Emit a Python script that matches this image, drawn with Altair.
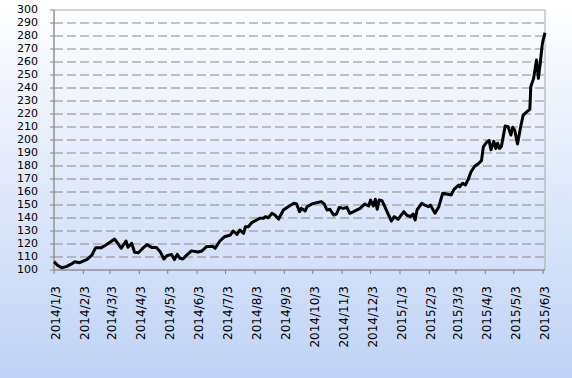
import altair as alt
import pandas as pd

# Calendar days after 2014-01-03 and index values
day_offset = [0, 4, 8, 13, 18, 22, 27, 35, 40, 44, 50, 56, 64, 68, 71, 76, 78, 82, 85, 89,
              93, 98, 103, 108, 112, 116, 119, 124, 127, 130, 133, 136, 140, 145, 152, 156,
              161, 168, 170, 175, 180, 186, 189, 193, 196, 200, 202, 205, 209, 214, 217, 221,
              223, 226, 230, 233, 237, 242, 247, 253, 256, 259, 261, 265, 267, 272, 277, 282,
              285, 288, 291, 295, 298, 301, 305, 309, 312, 316, 323, 328, 332, 334, 337, 339,
              341, 343, 346, 349, 353, 356, 359, 363, 369, 372, 376, 379, 381, 383, 388, 391,
              395, 397, 402, 406, 410, 414, 419, 422, 427, 428, 431, 434, 437, 440, 444, 448,
              451, 453, 457, 459, 461, 464, 466, 468, 470, 472, 476, 479, 482, 484, 486, 489,
              492, 495, 499, 502, 503, 506, 509, 511, 513, 515, 516, 518]
values = [106.4, 103.5, 101.8, 102.6, 104.5, 106.4, 105.6, 108.2, 111.5, 117.2, 117.2, 119.8,
          123.8, 119.8, 116.7, 122.3, 117.5, 120.5, 113.6, 113.3, 116.2, 119.5, 117.4, 117.4,
          114.1, 108.5, 111.0, 112.0, 108.0, 112.0, 109.0, 108.5, 111.5, 114.7, 113.8, 114.6,
          118.0, 118.0, 116.7, 122.3, 125.6, 126.9, 130.0, 127.4, 130.8, 128.2, 133.3, 133.3,
          136.7, 138.5, 139.8, 139.8, 141.0, 140.2, 143.6, 142.3, 139.2, 146.2, 148.7, 151.3,
          150.8, 144.9, 147.4, 145.4, 148.7, 150.8, 151.8, 152.6, 150.8, 146.2, 146.7, 142.3,
          143.1, 148.2, 147.4, 148.2, 143.6, 144.9, 147.4, 150.8, 149.2, 153.8, 149.2, 154.4,
          146.7, 153.8, 153.3, 148.7, 142.3, 137.7, 141.0, 139.0, 144.9, 142.3, 141.0, 143.1,
          138.5, 146.2, 151.3, 150.0, 148.7, 150.0, 143.6, 148.7, 159.0, 158.5, 157.7, 162.0,
          165.4, 164.0, 166.7, 165.4, 169.7, 175.6, 180.0, 182.0, 184.1, 194.9, 198.7, 199.5,
          192.5, 199.0, 193.5, 197.5, 193.5, 195.0, 210.8, 210.3, 203.8, 209.8, 207.7, 196.9,
          209.0, 219.2, 221.8, 223.6, 241.0, 247.4, 261.5, 247.4, 259.0, 273.0, 276.9, 282.5]

tick_dates = ["2014-01-03", "2014-02-03", "2014-03-03", "2014-04-03", "2014-05-03",
              "2014-06-03", "2014-07-03", "2014-08-03", "2014-09-03", "2014-10-03",
              "2014-11-03", "2014-12-03", "2015-01-03", "2015-02-03", "2015-03-03",
              "2015-04-03", "2015-05-03", "2015-06-03"]
tick_labels = ["2014/1/3", "2014/2/3", "2014/3/3", "2014/4/3", "2014/5/3", "2014/6/3",
               "2014/7/3", "2014/8/3", "2014/9/3", "2014/10/3", "2014/11/3", "2014/12/3",
               "2015/1/3", "2015/2/3", "2015/3/3", "2015/4/3", "2015/5/3", "2015/6/3"]
grid_levels = list(range(110, 300, 10))
y_ticks = list(range(100, 310, 10))

start_date = pd.Timestamp("2014-01-03")
df = pd.DataFrame({
    "date": [(start_date + pd.Timedelta(days=d)).strftime("%Y-%m-%dT%H:%M:%S") for d in day_offset],
    "value": values,
})
xticks_df = pd.DataFrame({"date": [d + "T00:00:00" for d in tick_dates], "label": tick_labels})
yticks_df = pd.DataFrame({"t": y_ticks})
grid_df = pd.DataFrame({"g": grid_levels})

# Whole canvas is the view; the plot box lies inside it
CW, CH = 572, 378
L, R, T, B = 54, 545, 10, 270
AXIS_GRAY = "#868686"
FONT = "DejaVu Sans"

y_scale = alt.Scale(domain=[100, 300], range=[B, T], nice=False, zero=False)
x_scale = alt.Scale(domain=["2014-01-03T00:00:00", "2015-06-05T00:00:00"],
                    range=[L, R], nice=False)

gradient = {
    "gradient": "linear", "x1": 0, "y1": 0, "x2": 0, "y2": 1,
    "stops": [{"offset": 0, "color": "#ffffff"},
              {"offset": 1, "color": "#bfd3f6"}],
}
one = alt.Data(values=[{}])

bg = alt.Chart(one).mark_rect(fill=gradient).encode(
    x=alt.value(0), x2=alt.value(CW), y=alt.value(0), y2=alt.value(CH))

grid = alt.Chart(grid_df).mark_rule(color="#8a8a8a", strokeWidth=1, strokeDash=[9, 4]).encode(
    y=alt.Y("g:Q", scale=y_scale, axis=None), x=alt.value(L), x2=alt.value(R))

border = alt.Chart(one).mark_rect(filled=False, stroke="#a6a6a6", strokeWidth=1).encode(
    x=alt.value(L), x2=alt.value(R), y=alt.value(T), y2=alt.value(B))

y_tick_marks = alt.Chart(yticks_df).mark_rule(color=AXIS_GRAY, strokeWidth=1).encode(
    y=alt.Y("t:Q", scale=y_scale, axis=None), x=alt.value(L - 4), x2=alt.value(L))

y_labels = alt.Chart(yticks_df).mark_text(
    align="right", baseline="middle", font=FONT, fontSize=11, color="#000000"
).encode(y=alt.Y("t:Q", scale=y_scale, axis=None), x=alt.value(38), text="t:Q")

x_tick_marks = alt.Chart(xticks_df).mark_rule(color=AXIS_GRAY, strokeWidth=1).encode(
    x=alt.X("date:T", scale=x_scale, axis=None), y=alt.value(B), y2=alt.value(B + 4))

x_labels = alt.Chart(xticks_df).mark_text(
    angle=270, align="right", baseline="middle", font=FONT, fontSize=12,
    color="#000000", dy=2
).encode(x=alt.X("date:T", scale=x_scale, axis=None), y=alt.value(286), text="label:N")

domain_bottom = alt.Chart(one).mark_rule(color=AXIS_GRAY, strokeWidth=1).encode(
    x=alt.value(L), x2=alt.value(R), y=alt.value(B))
domain_left = alt.Chart(one).mark_rule(color=AXIS_GRAY, strokeWidth=1).encode(
    x=alt.value(L), y=alt.value(T), y2=alt.value(B))

line = alt.Chart(df).mark_line(color="#000000", strokeWidth=3, strokeJoin="round").encode(
    x=alt.X("date:T", scale=x_scale, axis=None),
    y=alt.Y("value:Q", scale=y_scale, axis=None),
)

chart = alt.layer(bg, grid, border, domain_bottom, domain_left, y_tick_marks, x_tick_marks,
                  y_labels, x_labels, line).properties(
    width=CW, height=CH,
    autosize=alt.AutoSizeParams(type="none"),
    padding=0,
    background="#ffffff",
).configure_view(stroke=None)

chart.save("out.html", embed_options={"renderer": "svg", "actions": False})
